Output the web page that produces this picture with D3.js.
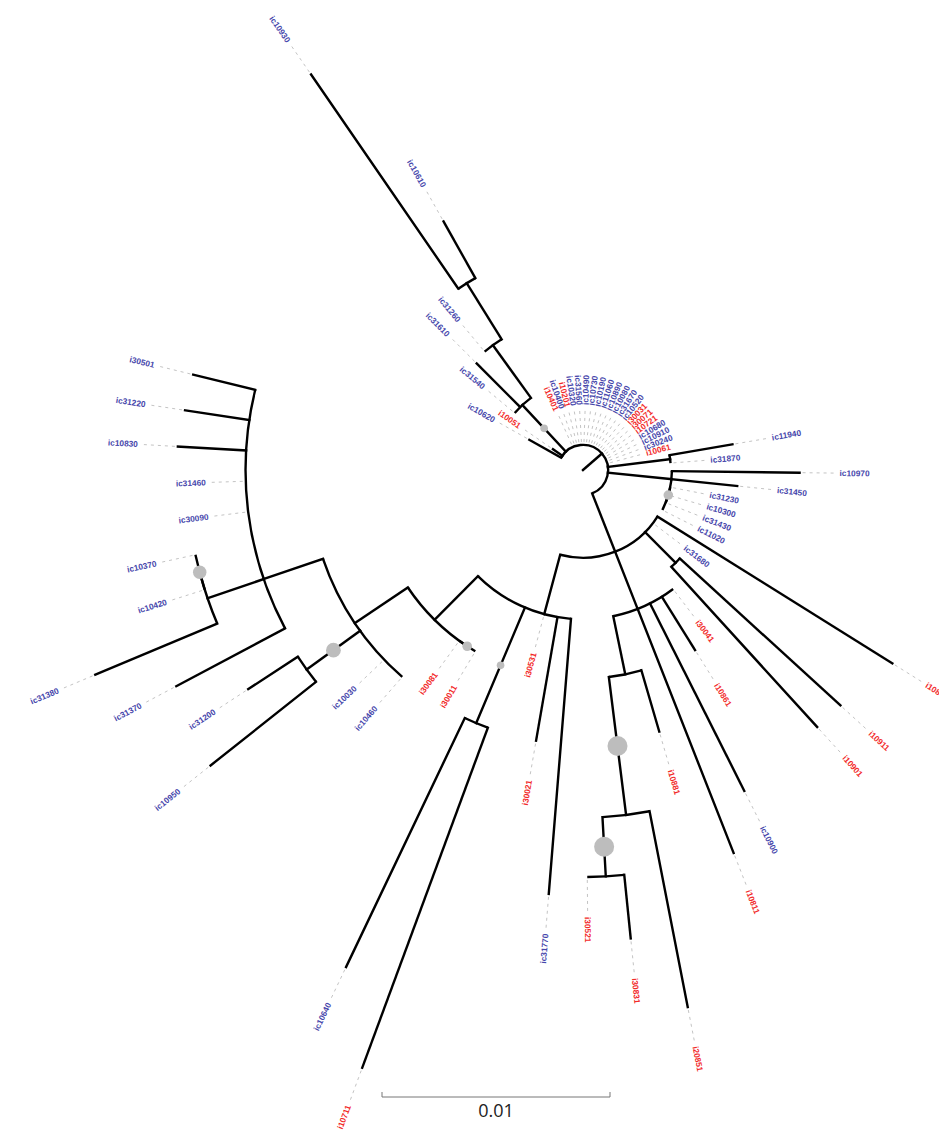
<!DOCTYPE html>
<html>
<head>
<meta charset="utf-8">
<script src="https://cdn.jsdelivr.net/npm/d3@7"></script>
<style>
  body { margin: 0; background: #fff; }
  svg { display: block; }
</style>
</head>
<body>
<svg id="tree" width="939" height="1135"></svg>
<script>
var width = 939, height = 1135;
var cx = 583, cy = 470;

// tips in the order they sit round the circle (69 slots, 2 left empty)
var leafOrder = ["ic10620", "i10051", "ic31540", "ic31610", "ic31260", "ic10930", "ic10610",
    "i10401", "ic10400", "i10201", "ic10320", "ic31560", "ic10490", "ic10730", "ic10190",
    "ic11060", "ic10890", "ic10080", "ic31670", "ic10520", "i30031", "i30071", "i10721",
    "ic10680", "ic10910", "ic30240", "i10061", "ic11940", "ic31870", "ic10970", "ic31450",
    "ic31230", "ic10300", "ic31430", "ic11020", "i10871", "ic31680", "i10911", "i10901",
    "i30041", "i10861", "ic10900", "i10811", "i10881", "i20851", "i30831", "i30521",
    "ic31770", "i30021", "i30531", "i10711", "ic10640", "i30011", "i30081", "ic10460",
    "ic10030", "ic10950", "ic31200", "ic31370", "ic31380", "ic10420", "ic10370", "ic30090",
    "ic31460", "ic10830", "ic31220", "i30501"];
var slotCount = 69;

// [node, parent, branch length]
var branches = [
    ["root", null, 0],
    ["S", "root", 0.0011],
    ["ic10620", "S", 0.0016],
    ["i10051", "S", 0.0005],
    ["Y3", "S", 0.0028],
    ["ic31540", "Y3", 0],
    ["ic31610", "Y3", 0.0027],
    ["Y2", "Y3", 0.00285],
    ["ic31260", "Y2", 0],
    ["Y1", "Y2", 0.0029],
    ["ic10930", "Y1", 0.0114],
    ["ic10610", "Y1", 0.00285],
    ["i10401", "S", 0], ["ic10400", "S", 0], ["i10201", "S", 0], ["ic10320", "S", 0],
    ["ic31560", "S", 0], ["ic10490", "S", 0], ["ic10730", "S", 0], ["ic10190", "S", 0],
    ["ic11060", "S", 0], ["ic10890", "S", 0], ["ic10080", "S", 0], ["ic31670", "S", 0],
    ["ic10520", "S", 0], ["i30031", "S", 0], ["i30071", "S", 0], ["i10721", "S", 0],
    ["ic10680", "S", 0], ["ic10910", "S", 0], ["ic30240", "S", 0], ["i10061", "S", 0],
    ["T", "S", 0.00275],
    ["ic11940", "T", 0.0028],
    ["ic31870", "T", 0],
    ["V", "S", 0.0028],
    ["ic10970", "V", 0.0056],
    ["ic31450", "V", 0.0029],
    ["W", "V", 0],
    ["ic31230", "W", 0], ["ic10300", "W", 0], ["ic31430", "W", 0],
    ["ic11020", "V", 0],
    ["Z", "S", 0.00275],
    ["i10871", "Z", 0.01215],
    ["ic31680", "Z", 0],
    ["K", "Z", 0.0019],
    ["i10911", "K", 0.00955],
    ["i10901", "K", 0.0095],
    ["M", "Z", 0.0027],
    ["i30041", "M", 0],
    ["i10861", "M", 0.00275],
    ["ic10900", "M", 0.0092],
    ["i10811", "M", 0.0115],
    ["M2", "M", 0.0026],
    ["i10881", "M2", 0.0028],
    ["M3", "M2", 0.0061],
    ["i20851", "M3", 0.00875],
    ["M4", "M3", 0.0026],
    ["i30831", "M4", 0.0028],
    ["i30521", "M4", 0],
    ["L", "Z", 0.0027],
    ["ic31770", "L", 0.0121],
    ["i30021", "L", 0.0055],
    ["i30531", "L", 0],
    ["J", "L", 0.0055],
    ["i10711", "J", 0.0159],
    ["ic10640", "J", 0.0121],
    ["Q", "L", 0.0027],
    ["R", "Q", 0],
    ["i30011", "R", 0], ["i30081", "R", 0],
    ["P", "Q", 0.0028],
    ["ic10460", "P", 0], ["ic10030", "P", 0],
    ["X2", "P", 0.0029],
    ["ic31200", "X2", 0.0026],
    ["ic10950", "X2", 0.0059],
    ["B", "P", 0.00275],
    ["ic31370", "B", 0.0054],
    ["N1", "B", 0.0026],
    ["ic31380", "N1", 0.0058],
    ["NS", "N1", 0],
    ["ic10420", "NS", 0], ["ic10370", "NS", 0],
    ["ic30090", "B", 0], ["ic31460", "B", 0],
    ["ic10830", "B", 0.003],
    ["ic31220", "B", 0.00285],
    ["i30501", "B", 0.0028]
];

// nodes drawn in line with one of their children instead of the middle
var alignTo = { B: "N1", L: "i30531", M: "i10811", V: "ic31450" };

// support values shown as grey dots on the branch
var support = [["Y3", 0.62], ["W", 0.68], ["NS", 0.8], ["X2", 0.84], ["R", 0.68],
    ["J", 0.62], ["M3", 1.0], ["M4", 1.0]];

var redTips = ["i10401", "i10201", "i30031", "i30071", "i10721", "i10061", "i10051",
    "i10871", "i10911", "i10901", "i30041", "i10861", "i10811", "i10881", "i20851",
    "i30831", "i30521", "i30021", "i30531", "i10711", "i30011", "i30081"];

var scaleBarValue = 0.01;

var slotAngle = d3.scaleLinear().domain([0, slotCount]).range([209.4, 209.4 + 360]);
var radius = d3.scaleLinear().domain([0, 0.01]).range([0, 228]);
var dotSize = d3.scaleLinear().domain([0.6, 1]).range([3.5, 10]);

function polar(deg, r) {
    var a = deg * Math.PI / 180;
    return [cx + r * Math.cos(a), cy + r * Math.sin(a)];
}

var root = d3.stratify()
    .id(function (d) { return d[0]; })
    .parentId(function (d) { return d[1]; })(branches);

root.eachBefore(function (n) {
    n.len = n.parent ? n.parent.len + n.data[2] : 0;
});
root.eachAfter(function (n) {
    if (!n.children) {
        n.slot = leafOrder.indexOf(n.id);
    } else {
        var s = n.children.map(function (c) { return c.slot; });
        n.lo = d3.min(s);
        n.hi = d3.max(s);
        var a = alignTo[n.id];
        n.slot = a ? n.children.find(function (c) { return c.id === a; }).slot : (n.lo + n.hi) / 2;
    }
});

var svg = d3.select("#tree");
svg.append("rect").attr("width", width).attr("height", height).attr("fill", "#fff");

var g = svg.append("g");

// dashed connectors and tip labels
var leaves = root.leaves();
g.selectAll("line.connector")
    .data(leaves)
    .enter().append("line")
    .attr("class", "connector")
    .attr("x1", function (d) { return polar(slotAngle(d.slot), radius(d.len) + 3)[0]; })
    .attr("y1", function (d) { return polar(slotAngle(d.slot), radius(d.len) + 3)[1]; })
    .attr("x2", function (d) { return polar(slotAngle(d.slot), radius(d.len) + 37)[0]; })
    .attr("y2", function (d) { return polar(slotAngle(d.slot), radius(d.len) + 37)[1]; })
    .attr("stroke", "#c4c4c4")
    .attr("stroke-width", 1)
    .attr("stroke-dasharray", "3,4");

g.selectAll("text.tip")
    .data(leaves)
    .enter().append("text")
    .attr("class", "tip")
    .attr("transform", function (d) {
        var deg = slotAngle(d.slot);
        var p = polar(deg, radius(d.len) + 40);
        var norm = ((deg % 360) + 360) % 360;
        var rot = (norm > 90 && norm < 270) ? norm + 180 : norm;
        return "translate(" + p[0] + "," + p[1] + ") rotate(" + rot + ")";
    })
    .attr("text-anchor", function (d) {
        var norm = ((slotAngle(d.slot) % 360) + 360) % 360;
        return (norm > 90 && norm < 270) ? "end" : "start";
    })
    .attr("dy", "0.35em")
    .attr("font-family", "'Liberation Sans', Arial, sans-serif")
    .attr("font-size", 8.3)
    .attr("font-weight", "bold")
    .attr("fill", function (d) { return redTips.indexOf(d.id) >= 0 ? "#f22a2a" : "#4646ab"; })
    .text(function (d) { return d.id; });

// arcs joining children
var inner = root.descendants().filter(function (n) { return n.children && n.hi > n.lo; });
g.selectAll("path.arc")
    .data(inner)
    .enter().append("path")
    .attr("class", "arc")
    .attr("d", function (n) {
        var p = d3.path();
        p.arc(cx, cy, radius(n.len),
            slotAngle(n.lo) * Math.PI / 180,
            slotAngle(n.hi) * Math.PI / 180);
        return p.toString();
    })
    .attr("fill", "none")
    .attr("stroke", "#000")
    .attr("stroke-width", 2.4);

// radial branches
var edges = root.descendants().filter(function (n) { return n.parent && n.data[2] > 0; });
g.selectAll("line.branch")
    .data(edges)
    .enter().append("line")
    .attr("class", "branch")
    .attr("x1", function (n) { return polar(slotAngle(n.slot), radius(n.parent.len))[0]; })
    .attr("y1", function (n) { return polar(slotAngle(n.slot), radius(n.parent.len))[1]; })
    .attr("x2", function (n) { return polar(slotAngle(n.slot), radius(n.len))[0]; })
    .attr("y2", function (n) { return polar(slotAngle(n.slot), radius(n.len))[1]; })
    .attr("stroke", "#000")
    .attr("stroke-width", 2.4)
    .attr("stroke-linecap", "square");

// support dots at branch midpoints
var byId = {};
root.each(function (n) { byId[n.id] = n; });
g.selectAll("circle.support")
    .data(support)
    .enter().append("circle")
    .attr("class", "support")
    .attr("cx", function (d) {
        var n = byId[d[0]];
        return polar(slotAngle(n.slot), (radius(n.parent.len) + radius(n.len)) / 2)[0];
    })
    .attr("cy", function (d) {
        var n = byId[d[0]];
        return polar(slotAngle(n.slot), (radius(n.parent.len) + radius(n.len)) / 2)[1];
    })
    .attr("r", function (d) { return dotSize(d[1]); })
    .attr("fill", "#bdbdbd");

// scale bar
var barX = 382, barY = 1097;
var bar = svg.append("g").attr("transform", "translate(" + barX + "," + barY + ")");
bar.append("path")
    .attr("d", "M0,-5V0H" + radius(scaleBarValue) + "V-5")
    .attr("fill", "none")
    .attr("stroke", "#777")
    .attr("stroke-width", 1);
bar.append("text")
    .attr("x", radius(scaleBarValue) / 2)
    .attr("y", 20)
    .attr("text-anchor", "middle")
    .attr("font-family", "'Open Sans', 'DejaVu Sans', sans-serif")
    .attr("font-size", 18)
    .attr("fill", "#222")
    .text(scaleBarValue);
</script>
</body>
</html>
